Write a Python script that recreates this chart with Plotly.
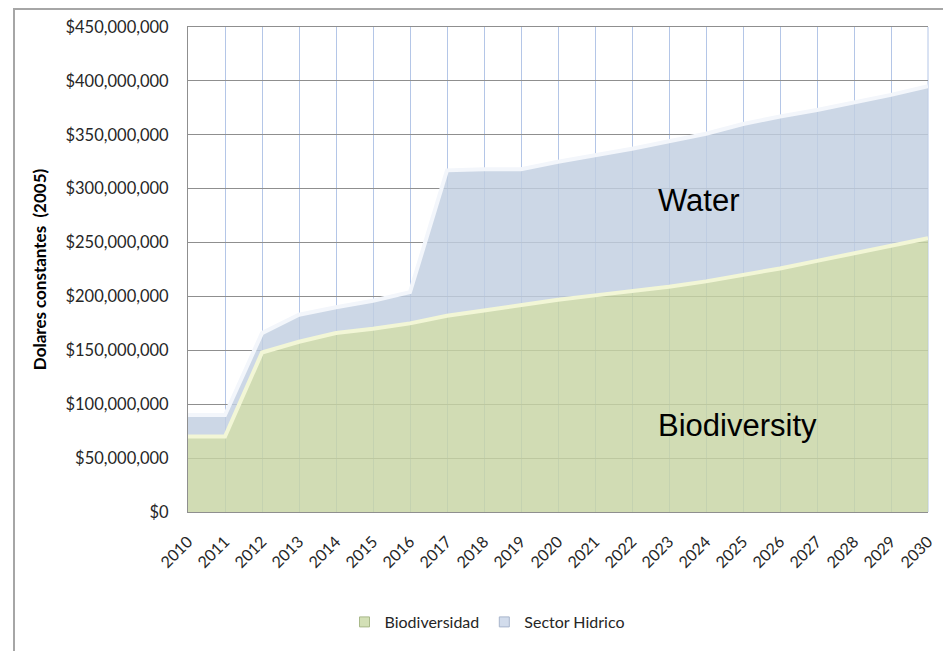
import plotly.graph_objects as go

years = list(range(2010, 2031))
biodiversidad = [70e6, 70e6, 148e6, 158e6, 166e6, 170e6, 175e6, 182e6, 187e6, 192e6, 197e6,
                 201e6, 205e6, 209e6, 214e6, 220e6, 226e6, 233e6, 240e6, 247e6, 254e6]
sector_hidrico = [20e6, 20e6, 18e6, 25e6, 24e6, 26e6, 29e6, 135e6, 131e6, 126e6, 128e6,
                  130e6, 132e6, 135e6, 137e6, 140e6, 141e6, 140e6, 140e6, 140e6, 141e6]
series_names = ["Biodiversidad", "Sector Hidrico"]
y_title = "Dolares constantes  (2005)"
labels_inside = ["Water", "Biodiversity"]

OFF = 8  # page body margin
W, H = 951 - OFF, 651 - OFF
L, R, T, B = 188 - OFF, 928 - OFF, 27 - OFF, 512 - OFF


def px_x(p):
    return (p - OFF - L) / (R - L)


def px_y(p):
    return (B - (p - OFF)) / (B - T)


fig = go.Figure()

fig.add_trace(go.Scatter(
    x=years, y=biodiversidad, name=series_names[0], stackgroup="one",
    mode="lines", line=dict(color="#f2f6d6", width=4),
    fillcolor="rgba(199,212,164,0.82)", showlegend=False, hoverinfo="x+y"))
fig.add_trace(go.Scatter(
    x=years, y=sector_hidrico, name=series_names[1], stackgroup="one",
    mode="lines", line=dict(color="#f3f6fb", width=4),
    fillcolor="rgba(193,206,225,0.82)", showlegend=False, hoverinfo="x+y"))

# legend entries (square swatches)
fig.add_trace(go.Scatter(
    x=[None], y=[None], name=series_names[0], mode="markers",
    marker=dict(symbol="square", size=10, color="#d3e0b6",
                line=dict(color="#a9b98a", width=1))))
fig.add_trace(go.Scatter(
    x=[None], y=[None], name=series_names[1], mode="markers",
    marker=dict(symbol="square", size=10, color="#d2dcec",
                line=dict(color="#a8b6cc", width=1))))

fig.add_annotation(text=labels_inside[0], xref="paper", yref="paper",
                   x=px_x(656), y=px_y(201), xanchor="left", yanchor="middle",
                   showarrow=False,
                   font=dict(family="Liberation Sans, Arial", size=31, color="#000000"))
fig.add_annotation(text=labels_inside[1], xref="paper", yref="paper",
                   x=px_x(656), y=px_y(425), xanchor="left", yanchor="middle",
                   showarrow=False,
                   font=dict(family="Liberation Sans, Arial", size=31, color="#000000"))

# outer chart border
fig.add_shape(type="rect", xref="paper", yref="paper",
              x0=px_x(14), x1=px_x(975), y0=px_y(675), y1=px_y(9),
              line=dict(color="#a6a6a6", width=2), fillcolor="rgba(0,0,0,0)",
              layer="below")
# right edge (blue gridline at 2030)
fig.add_shape(type="line", xref="paper", yref="paper", x0=1, x1=1, y0=0, y1=1,
              line=dict(color="#b4c6e7", width=1), layer="below")

fig.update_layout(
    width=W, height=H,
    margin=dict(l=L, r=W - R, t=T, b=H - B, autoexpand=False),
    paper_bgcolor="white", plot_bgcolor="white",
    font=dict(family="Lato, Noto Sans, sans-serif", size=16, color="#262626"),
    showlegend=True,
    legend=dict(orientation="h", x=px_x(487), y=px_y(622),
                xanchor="center", yanchor="middle", traceorder="normal",
                font=dict(family="Lato", size=16, color="#262626"),
                itemwidth=30, bgcolor="rgba(0,0,0,0)"),
    hovermode="x",
)

fig.update_xaxes(
    range=[2010, 2030], tickmode="linear", tick0=2010, dtick=1,
    tickangle=-45, ticks="", ticklabelstandoff=13,
    showgrid=True, gridcolor="#b4c6e7", gridwidth=1,
    showline=True, linecolor="#8f8f8f", linewidth=1, mirror=True,
    zeroline=False, tickfont=dict(family="Lato", size=16, color="#262626"),
)
fig.update_yaxes(
    range=[0, 450e6], tickmode="linear", tick0=0, dtick=50e6,
    tickformat="$,.0f", ticks="", ticklabelstandoff=15,
    showgrid=True, gridcolor="#8f8f8f", gridwidth=1,
    showline=True, linecolor="#8f8f8f", linewidth=1,
    zeroline=False, tickfont=dict(family="Lato", size=16.5, color="#262626"),
    title=dict(text=y_title, standoff=14,
               font=dict(family="Lato", size=17, color="#000000", weight="bold")),
)

fig.write_html("out.html")
